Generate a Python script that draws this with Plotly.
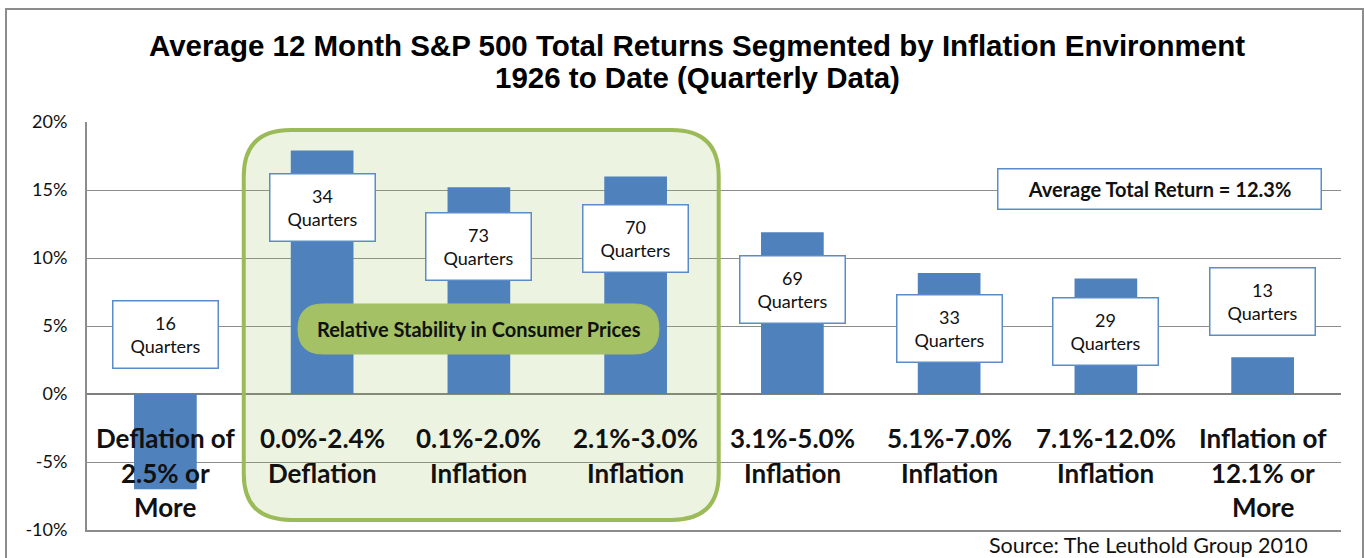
import plotly.graph_objects as go

# ---------------- data ----------------
categories = [
    "Deflation of\n2.5% or\nMore",
    "0.0%-2.4%\nDeflation",
    "0.1%-2.0%\nInflation",
    "2.1%-3.0%\nInflation",
    "3.1%-5.0%\nInflation",
    "5.1%-7.0%\nInflation",
    "7.1%-12.0%\nInflation",
    "Inflation of\n12.1% or\nMore",
]
avg_returns = [-7.0, 17.9, 15.2, 16.0, 11.9, 8.9, 8.5, 2.7]
quarters = [16, 34, 73, 70, 69, 33, 29, 13]
overall_avg = 12.3
y_ticks = [-10, -5, 0, 5, 10, 15, 20]
y_tick_labels = [f"{v}%" for v in y_ticks]
title_lines = ["Average 12 Month S&P 500 Total Returns Segmented by Inflation Environment",
               "1926 to Date (Quarterly Data)"]
band_label = "Relative Stability in Consumer Prices"
source_text = "Source: The Leuthold Group 2010"

# ---------------- style / layout constants ----------------
W, H = 1364, 558
ML, MR, MT, MB = 87, 23, 122, 28
PW, PH = W - ML - MR, H - MT - MB
BAR = "#4F81BD"
GRID = "#8C8C8C"
GREEN = "#9BBB59"
BODY_FONT = "Lato"
box_centers = [4.41, 13.68, 10.81, 11.47, 7.72, 4.85, 4.63, 6.80]  # label box vertical centres (axis units)
title_line_px = [45, 78]

x_idx = list(range(len(categories)))

fig = go.Figure()
fig.add_trace(go.Bar(
    x=x_idx, y=avg_returns, width=0.4,
    marker=dict(color=BAR, line=dict(width=0)),
    showlegend=False, hoverinfo="skip",
))


def rounded_path(x0, x1, y0, y1, rx, ry):
    return (f"M {x0+rx},{y1} L {x1-rx},{y1} Q {x1},{y1} {x1},{y1-ry} "
            f"L {x1},{y0+ry} Q {x1},{y0} {x1-rx},{y0} L {x0+rx},{y0} "
            f"Q {x0},{y0} {x0},{y0+ry} L {x0},{y1-ry} Q {x0},{y1} {x0+rx},{y1} Z")


shapes = []
# rounded "stability" region (categories 1..3)
shapes.append(dict(type="path", xref="x", yref="y", layer="between",
                   path=rounded_path(0.5, 3.53, -9.26, 19.41, 0.30, 3.4),
                   fillcolor="rgba(155,187,89,0.18)", line=dict(color=GREEN, width=4)))
shapes.append(dict(type="path", xref="x", yref="y", layer="above",
                   path=rounded_path(0.846, 3.149, 2.94, 6.62, 0.16, 1.84),
                   fillcolor="#A4C265", line=dict(color="#A4C265", width=1)))
# outer chart border
shapes.append(dict(type="rect", xref="paper", yref="paper",
                   x0=(6 - ML) / PW, x1=(1363 - ML) / PW,
                   y0=-0.2, y1=(H - MB - 9) / PH,
                   line=dict(color="#8C8C8C", width=2), fillcolor="rgba(0,0,0,0)", layer="above"))

annotations = []
# quarter count boxes
for i, (q, yc) in enumerate(zip(quarters, box_centers)):
    annotations.append(dict(
        x=i, y=yc, xref="x", yref="y", text=f"{q}<br>Quarters", showarrow=False,
        width=104, height=66, borderpad=0, bgcolor="white", bordercolor="#5B8CC8", borderwidth=1.5,
        font=dict(family=BODY_FONT, size=18, color="#111111"), align="center", valign="middle",
    ))
# average box
annotations.append(dict(
    x=6.339, y=15.11, xref="x", yref="y", text=f"<b>Average Total Return = {overall_avg}%</b>",
    showarrow=False, width=322, height=39, borderpad=0, bgcolor="white",
    bordercolor="#5B8CC8", borderwidth=1.5,
    font=dict(family=BODY_FONT, size=20, color="#111111"), align="center", valign="middle",
))
# band label
annotations.append(dict(
    x=2.0, y=4.78, xref="x", yref="y", text=f"<b>{band_label}</b>", showarrow=False,
    font=dict(family=BODY_FONT, size=20, color="#111111"),
))
# category labels (inside plot, just below zero)
for i, cat in enumerate(categories):
    for k, line in enumerate(cat.split("\n")):
        annotations.append(dict(
            x=i, y=0, xref="x", yref="y", text=f"<b>{line}</b>", showarrow=False,
            yshift=-(44 + 34.5 * k), yanchor="middle",
            font=dict(family=BODY_FONT, size=26, color="#111111"),
        ))
# title
for line, py in zip(title_lines, title_line_px):
    annotations.append(dict(
        x=(697 - ML) / PW, y=(H - MB - py) / PH, xref="paper", yref="paper",
        text=f"<b>{line}</b>", showarrow=False, yanchor="middle",
        font=dict(family="Liberation Sans, Arial", size=29.5, color="#000000"),
    ))
# source
annotations.append(dict(
    x=(1310 - ML) / PW, y=(H - MB - 545) / PH, xref="paper", yref="paper",
    text=source_text, showarrow=False, xanchor="right", yanchor="middle",
    font=dict(family=BODY_FONT, size=21.5, color="#111111"),
))

fig.update_layout(
    width=W, height=H,
    margin=dict(l=ML, r=MR, t=MT, b=MB, pad=0),
    paper_bgcolor="white", plot_bgcolor="white",
    xaxis=dict(range=[-0.5, len(categories) - 0.5], showticklabels=False, showgrid=False,
               zeroline=False, showline=True, linecolor=GRID, linewidth=1.5, ticks=""),
    yaxis=dict(range=[-10, 20], tickmode="array", tickvals=y_ticks, ticktext=y_tick_labels,
               showgrid=True, gridcolor=GRID, gridwidth=1.2, zeroline=True, zerolinecolor="#7F7F7F",
               zerolinewidth=2.2, showline=True, linecolor=GRID, linewidth=2,
               ticks="", ticklabelstandoff=14,
               tickfont=dict(family=BODY_FONT, size=18, color="#111111")),
    shapes=shapes,
    annotations=annotations,
)

fig.write_html("out.html", config={"displayModeBar": False},
               post_script="document.body.style.margin='0';document.body.style.overflow='hidden';")
